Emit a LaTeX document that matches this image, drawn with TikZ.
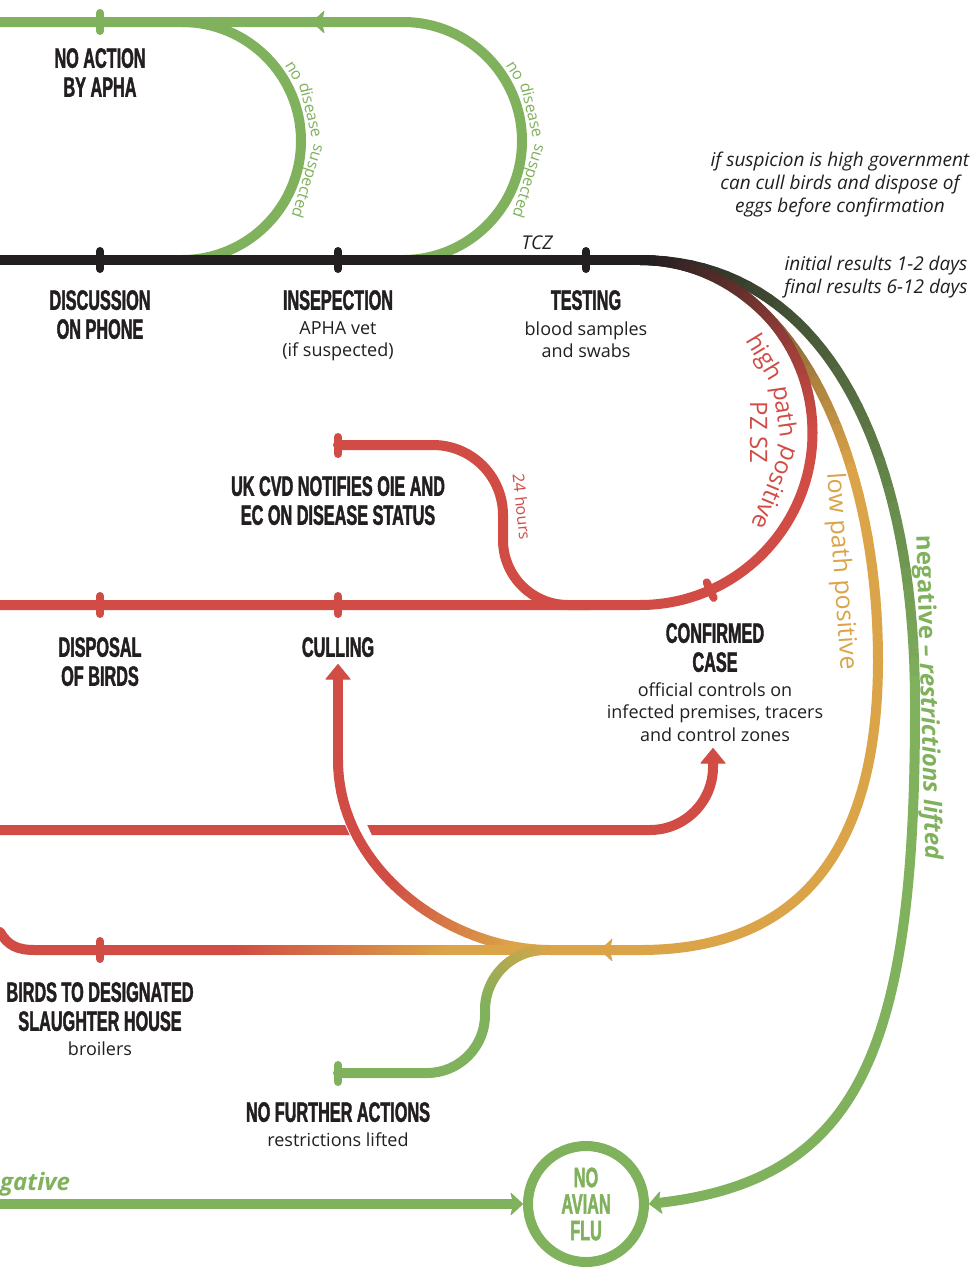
\documentclass[tikz,border=0pt]{standalone}
\usepackage{fontspec}
\setmainfont{Open Sans}
\newfontfamily\headfont[FakeStretch=0.58, FakeBold=1.5]{Liberation Sans}
\usetikzlibrary{arrows.meta,positioning,calc}

\definecolor{apgreen}{HTML}{80B15C}
\definecolor{apred}{HTML}{D04C44}
\definecolor{aporange}{HTML}{DBA448}
\definecolor{apblack}{HTML}{231F20}

\tikzset{
  metro/.style={line width=10pt, line cap=round},
  tick/.style={line width=8pt, line cap=round},
  stop/.style={-{Triangle[width=26pt,length=16pt,round,line width=1pt]}},
  chev/.style={-{Stealth[width=24pt,length=13pt,inset=3pt,round,line width=1pt]}},
  head/.style={font=\headfont\bfseries\fontsize{28}{29}\selectfont, text=apblack, align=center, inner sep=0pt},
  sub/.style={font=\fontsize{18}{22.5}\selectfont, text=apblack, align=center, inner sep=0pt},
  note/.style={font=\itshape\fontsize{19}{22.7}\selectfont, text=apblack, align=center, inner sep=0pt},
  line label/.style={anchor=base, inner sep=0pt, text=#1}
}

% bezier drawn in small pieces, colour #5 -> #6 between times #7 and #8
\newcommand\gradcurve[8]{%
  \foreach \k in {0,...,40}{
    \pgfmathsetmacro\tpos{\k/40}
    \path #1 .. controls #2 and #3 .. #4 coordinate[pos=\tpos] (gc\k);
  }
  \foreach \k [remember=\k as \kprev (initially 0)] in {1,...,40}{
    \pgfmathtruncatemacro\mix{max(0,min(100,100*(\k/40-#7)/(#8-#7)))}
    \draw[metro, #6!\mix!#5] (gc\kprev) -- (gc\k);
  }
}

\begin{document}
\begin{tikzpicture}[x=1pt, y=-1pt]
  \fill[white] (0,0) rectangle (978,1269);
  \useasboundingbox (0,0) rectangle (978,1269);

  \coordinate (split) at (640,260);
  \coordinate (rc) at (640,432.5);
  \coordinate (lc) at (182,141);
  \coordinate (rlc) at (403,141);
  \coordinate (notify) at (338,445);
  \coordinate (halt) at (338,1073);

  \node[circle, draw=apgreen, line width=10pt, minimum size=116pt, inner sep=0pt,
        font=\headfont\bfseries\fontsize{28}{26.5}\selectfont, text=apgreen, align=center] (flu) at (586,1204) {NO\\AVIAN\\FLU};

  % no disease suspected
  \draw[metro, apgreen] (403,260) arc[start angle=90, end angle=-90, radius=119] -- (0,22);
  \draw[metro, apgreen] (182,260) arc[start angle=90, end angle=-90, radius=119];
  \draw[metro, apgreen, chev] (332,22) -- (312,22);
  \draw[tick, apgreen] (100,13) -- (100,31);
  \foreach \w/\a in {no/-32, disease/-13.5, suspected/17.8}{
    \node[line label=apgreen, font=\fontsize{16}{16}\selectfont, rotate={-90-\a}] (left\w) at ($(lc)+(\a:127)$) {\w};
    \node[line label=apgreen, font=\fontsize{16}{16}\selectfont, rotate={-90-\a}] (right\w) at ($(rlc)+(\a:127)$) {\w};
  }

  \draw[metro, apblack] (0,260) -- (split);
  \foreach \x in {100,338,586}
    \draw[tick, apblack] (\x,251) -- (\x,269);

  % results
  \gradcurve{(split)}{(820,260)}{(914,440)}{(915,700)}{apblack}{apgreen}{0}{1}
  \draw[metro, apgreen, chev] (915,700) .. controls (916,1050) and (860,1180) .. (flu.east);
  \gradcurve{(split)}{(790,260)}{(878,450)}{(878,660)}{apblack}{aporange}{0}{0.7}
  \draw[metro, aporange] (878,660) .. controls (878,850) and (800,950) .. (640,950) -- (550,950);
  \gradcurve{(split)}{(735.3,260)}{(812.5,337.2)}{(812.5,432.5)}{apblack}{apred}{0.05}{1}
  \draw[metro, apred] (812.5,432.5) .. controls (812.5,527.8) and (735.3,605) .. (640,605) -- (0,605);
  \draw[tick, apred] ($(rc)+(66:164)$) -- ($(rc)+(66:181)$);
  \foreach \x in {100,338}
    \draw[tick, apred] (\x,596) -- (\x,614);

  \foreach \w/\a in {high/-31.3, path/-8.3, positive/22.4}
    \node[line label=apred, font=\fontsize{24}{24}\selectfont, rotate={-90-\a}] (high\w) at ($(rc)+(\a:138)$) {\w};
  \node[line label=apred, font=\fontsize{24}{24}\selectfont, rotate=-90] (pzsz) at ($(rc)+(0:110)$) {PZ SZ};
  \node[line label=aporange, font=\fontsize{25}{25}\selectfont, rotate=-86] (lowpath) at (834,572) {low path positive};
  \node[line label=apgreen, font=\bfseries\fontsize{24}{24}\selectfont, rotate=-88.4] (negpath) at (921,698)
    {negative \itshape– restrictions lifted};

  % notification
  \draw[metro, apred] (notify) -- (433,445) arc[start angle=-90, end angle=0, radius=70] -- (503,540)
    arc[start angle=180, end angle=90, radius=65] -- (590,605);
  \draw[tick, apred] (338,437) -- (338,454);
  \node[font=\fontsize{16}{16}\selectfont, text=apred, rotate=-84, inner sep=0pt] (hours) at (522,507) {24 hours};

  % official controls
  \draw[metro, apred, stop] (0,830) -- (650,830) arc[start angle=90, end angle=0, radius=63] -- (713,748);

  % culling
  \path (338,760) .. controls (338,870) and (450,950) .. (550,950) coordinate[pos=0.1] (gapa) coordinate[pos=0.34] (gapb);
  \draw[white, line width=20pt] (gapa) -- (gapb);
  \gradcurve{(550,950)}{(450,950)}{(338,870)}{(338,760)}{aporange}{apred}{0.15}{0.6}
  \draw[metro, apred, stop] (338,760) -- (338,664);

  % slaughter house
  \draw[metro, apred] (0,932) .. controls (8,946) and (18,950) .. (35,950) -- (240,950);
  \gradcurve{(240,950)}{(300,950)}{(390,950)}{(450,950)}{apred}{aporange}{0}{1}
  \draw[metro, aporange] (450,950) -- (640,950);
  \draw[metro, aporange, chev] (620,950) -- (600,950);
  \draw[tick, apred] (100,941) -- (100,959);

  % no further actions
  \gradcurve{(545,950)}{(511.9,950)}{(485,976.9)}{(485,1010)}{aporange}{apgreen}{0}{1}
  \draw[metro, apgreen] (485,1010) -- (485,1015) arc[start angle=0, end angle=90, radius=58] -- (halt);
  \draw[tick, apgreen] (338,1065) -- (338,1082);

  % negative
  \draw[metro, apgreen, chev] (0,1204) -- (flu.west);
  \node[anchor=base west, inner sep=0pt, text=apgreen, font=\bfseries\itshape\fontsize{24}{24}\selectfont] (negword) at (0,1190) {gative};

  \node[head, anchor=north] (noaction) at (100,48) {NO ACTION\\BY APHA};
  \node[head, anchor=north] (discussion) at (100,290) {DISCUSSION\\ON PHONE};
  \node[head, anchor=north] (inspection) at (338,290) {INSEPECTION};
  \node[sub, below=11pt of inspection] (inspectionsub) {APHA vet\\(if suspected)};
  \node[head, anchor=north] (testing) at (586,290) {TESTING};
  \node[sub, below=11pt of testing] (testingsub) {blood samples\\and swabs};
  \node[head, anchor=north] (notifies) at (338,476) {UK CVD NOTIFIES OIE AND\\EC ON DISEASE STATUS};
  \node[head, anchor=north] (disposal) at (100,637) {DISPOSAL\\OF BIRDS};
  \node[head, anchor=north] (culling) at (338,637) {CULLING};
  \node[head, anchor=north] (confirmed) at (715,623) {CONFIRMED\\CASE};
  \node[sub, below=10pt of confirmed] (confirmedsub) {official controls on\\infected premises, tracers\\and control zones};
  \node[head, anchor=north] (slaughter) at (100,982) {BIRDS TO DESIGNATED\\SLAUGHTER HOUSE};
  \node[sub, below=10pt of slaughter] (slaughtersub) {broilers};
  \node[head, anchor=north] (nofurther) at (338,1102) {NO FURTHER ACTIONS};
  \node[sub, below=10pt of nofurther] (nofurthersub) {restrictions lifted};

  \node[note, anchor=north] (tcz) at (537,236) {TCZ};
  \node[note, anchor=north] (suspicion) at (840,152) {if suspicion is high government\\can cull birds and dispose of\\eggs before confirmation};
  \node[note, anchor=north] (results) at (876,256) {initial results 1-2 days\\final results 6-12 days};
\end{tikzpicture}
\end{document}
